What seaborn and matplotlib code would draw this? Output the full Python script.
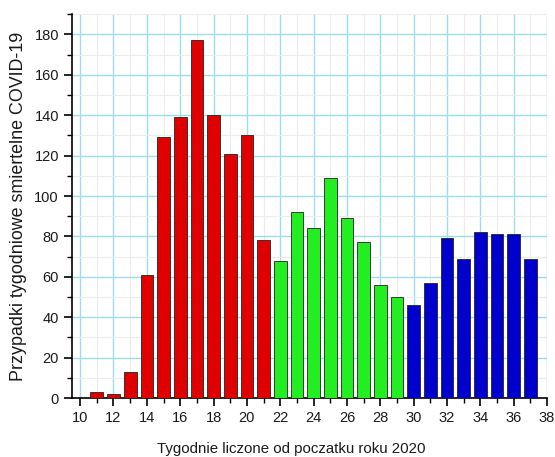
import matplotlib
matplotlib.use("Agg")
import matplotlib.pyplot as plt
from matplotlib.ticker import MultipleLocator
import seaborn as sns
import pandas as pd

weeks = list(range(11, 38))
deaths = [3, 2, 13, 61, 129, 139, 177, 140, 121, 130, 78,
          68, 92, 84, 109, 89, 77, 56, 50,
          46, 57, 79, 69, 82, 81, 81, 69]
phase = ["A"] * 11 + ["B"] * 8 + ["C"] * 8
palette = {"A": "#e00000", "B": "#22ee22", "C": "#0000cc"}

df = pd.DataFrame({"week": weeks, "deaths": deaths, "phase": phase})

sns.set_style("white")
plt.rcParams['font.family'] = ['Liberation Sans', 'DejaVu Sans']

fig = plt.figure(figsize=(5.55, 4.57), dpi=100)
ax = fig.add_axes([0.13, 0.129, 0.8556, 0.84])

sns.barplot(data=df, x="week", y="deaths", hue="phase", palette=palette,
            native_scale=True, dodge=False, width=0.76, legend=False,
            saturation=1, edgecolor="#222222", linewidth=0.6, ax=ax, zorder=3)

ax.set_xlim(9.52, 38)
ax.set_ylim(0, 190)
ax.xaxis.set_major_locator(MultipleLocator(2))
ax.xaxis.set_minor_locator(MultipleLocator(1))
ax.yaxis.set_major_locator(MultipleLocator(20))
ax.yaxis.set_minor_locator(MultipleLocator(10))

ax.grid(which="major", color="#9ddde6", linewidth=1.0, zorder=0)
ax.grid(which="minor", color="#ececec", linewidth=0.8, zorder=0)
ax.set_axisbelow(True)

for s in ["top", "right"]:
    ax.spines[s].set_visible(False)
for s in ["left", "bottom"]:
    ax.spines[s].set_color("black")
    ax.spines[s].set_linewidth(1.2)

ax.tick_params(which="major", direction="out", length=6, width=1.2,
               labelsize=10.5, color="black", labelcolor="#1a1a1a",
               left=True, bottom=True)
ax.tick_params(which="minor", direction="out", length=3.5, width=1.0,
               color="black", left=True, bottom=True)

ax.set_xlabel("Tygodnie liczone od poczatku roku 2020", fontsize=10.8,
              color="#1a1a1a")
ax.xaxis.set_label_coords(0.461, -0.115)
ax.set_ylabel("Przypadki tygodniowe smiertelne COVID-19", fontsize=12.9,
              color="#1a1a1a", labelpad=5)

fig.savefig("out.png", dpi=100)
